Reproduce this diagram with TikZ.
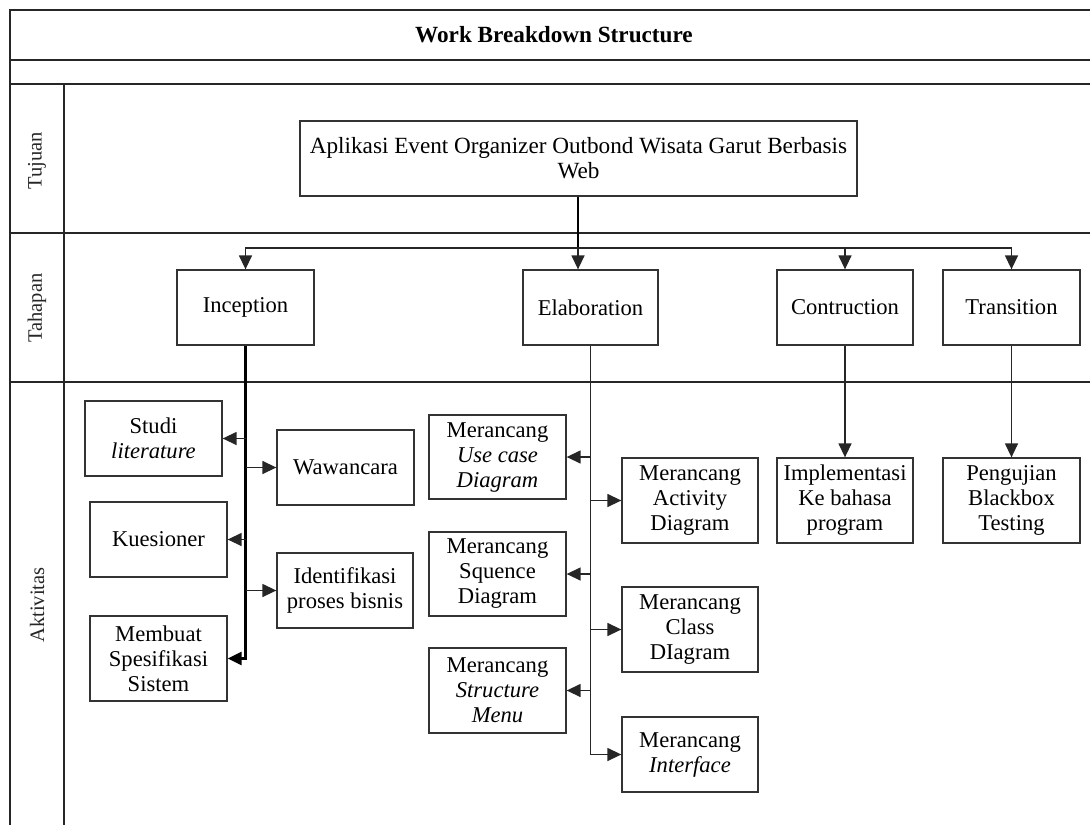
\documentclass[tikz,border=0pt]{standalone}
\usepackage{fontspec}
\setmainfont{Liberation Serif}
\usetikzlibrary{arrows.meta}
\tikzset{
  box/.style={draw=black!80, line width=1.3pt, align=center, inner sep=0pt,
    font=\fontsize{22.6}{25}\selectfont, fill=white},
  arr/.style={-{Triangle[length=14pt,width=13pt]}, line width=1.4pt, draw=black!85},
  lane/.style={line width=1.6pt, draw=black!85},
  outer/.style={line width=2.2pt, draw=black!85},
  lanelabel/.style={rotate=90, font=\fontsize{20.5}{24}\selectfont, text=black!85},
}
\begin{document}
\begin{tikzpicture}[x=1pt,y=-1pt]
\useasboundingbox (0,0) rectangle (1090,825);
% swimlane frame
\draw[outer] (1090,10) -- (10,10) -- (10,825);
\draw[outer] (10,60) -- (1090,60);
\draw[lane] (10,84) -- (1090,84);
\draw[lane] (10,233) -- (1090,233);
\draw[lane] (10,382) -- (1090,382);
\draw[lane] (64,84) -- (64,825);
\node[font=\bfseries\fontsize{23.2}{26}\selectfont] (title) at (554,35) {Work Breakdown Structure};
\node[lanelabel] (ltuj) at (37,161) {Tujuan};
\node[lanelabel] (ltah) at (37,308) {Tahapan};
\node[lanelabel] (lakt) at (37,605) {Aktivitas};
% goal
\node[box, minimum width=557pt, minimum height=75pt, font=\fontsize{23.2}{25}\selectfont] (main) at (578.5,158.5)
  {Aplikasi Event Organizer Outbond Wisata Garut Berbasis\\Web};
% phases
\node[box, minimum width=137pt, minimum height=75pt] (incep) at (245.5,307.5) {Inception};
\node[box, minimum width=135pt, minimum height=75pt] (elab) at (590.5,307.5) {Elaboration};
\node[box, minimum width=136pt, minimum height=75pt] (contr) at (845,307.5) {Contruction};
\node[box, minimum width=137pt, minimum height=75pt] (trans) at (1011.5,307.5) {Transition};
% inception activities
\node[box, minimum width=137pt, minimum height=75pt] (studi) at (153.5,438.5) {Studi\\\textit{literature}};
\node[box, minimum width=137pt, minimum height=75pt] (waw) at (345.5,467.5) {Wawancara};
\node[box, minimum width=137pt, minimum height=75pt] (kues) at (158.5,539.5) {Kuesioner};
\node[box, minimum width=136pt, minimum height=75pt] (ident) at (345,590.5) {Identifikasi\\proses bisnis};
\node[box, minimum width=137pt, minimum height=85pt] (memb) at (158.5,658.5) {Membuat\\Spesifikasi\\Sistem};
% elaboration activities
\node[box, minimum width=137pt, minimum height=84pt] (usec) at (497.5,457) {Merancang\\\textit{Use case}\\\textit{Diagram}};
\node[box, minimum width=136pt, minimum height=85pt] (activ) at (690,500.5) {Merancang\\Activity\\Diagram};
\node[box, minimum width=137pt, minimum height=84pt] (sequ) at (497.5,574) {Merancang\\Squence\\Diagram};
\node[box, minimum width=136pt, minimum height=85pt] (class) at (690,629.5) {Merancang\\Class\\DIagram};
\node[box, minimum width=137pt, minimum height=85pt] (struc) at (497.5,690.5) {Merancang\\\textit{Structure}\\\textit{Menu}};
\node[box, minimum width=136pt, minimum height=75pt] (intf) at (690,754.5) {Merancang\\\textit{Interface}};
% construction / transition activities
\node[box, minimum width=136pt, minimum height=85pt] (impl) at (845,500.5) {Implementasi\\Ke bahasa\\program};
\node[box, minimum width=137pt, minimum height=85pt] (peng) at (1011.5,500.5) {Pengujian\\Blackbox\\Testing};
% goal -> phases
\coordinate (j) at (578,248);
\draw[line width=2pt, draw=black] (main.south -| j) -- (j);
\draw[line width=1.6pt, draw=black!85] (incep.north |- j) -- (trans.north |- j);
\draw[arr] (j) -| (incep.north);
\draw[arr] (j) -- (j |- elab.north);
\draw[arr] (j) -| (contr.north);
\draw[arr] (j) -| (trans.north);
% inception branches
\draw[arr, line width=2.4pt, draw=black] (incep.south) |- (memb.east);
\draw[arr] (incep.south |- studi.east) -- (studi.east);
\draw[arr] (incep.south |- waw.west) -- (waw.west);
\draw[arr] (incep.south |- kues.east) -- (kues.east);
\draw[arr] (incep.south |- ident.west) -- (ident.west);
% elaboration branches
\draw[arr] (elab.south) |- (intf.west);
\draw[arr] (elab.south |- usec.east) -- (usec.east);
\draw[arr] (elab.south |- activ.west) -- (activ.west);
\draw[arr] (elab.south |- sequ.east) -- (sequ.east);
\draw[arr] (elab.south |- class.west) -- (class.west);
\draw[arr] (elab.south |- struc.east) -- (struc.east);
% construction / transition
\draw[arr] (contr.south) -- (impl.north);
\draw[arr] (trans.south) -- (peng.north);
\end{tikzpicture}
\end{document}
